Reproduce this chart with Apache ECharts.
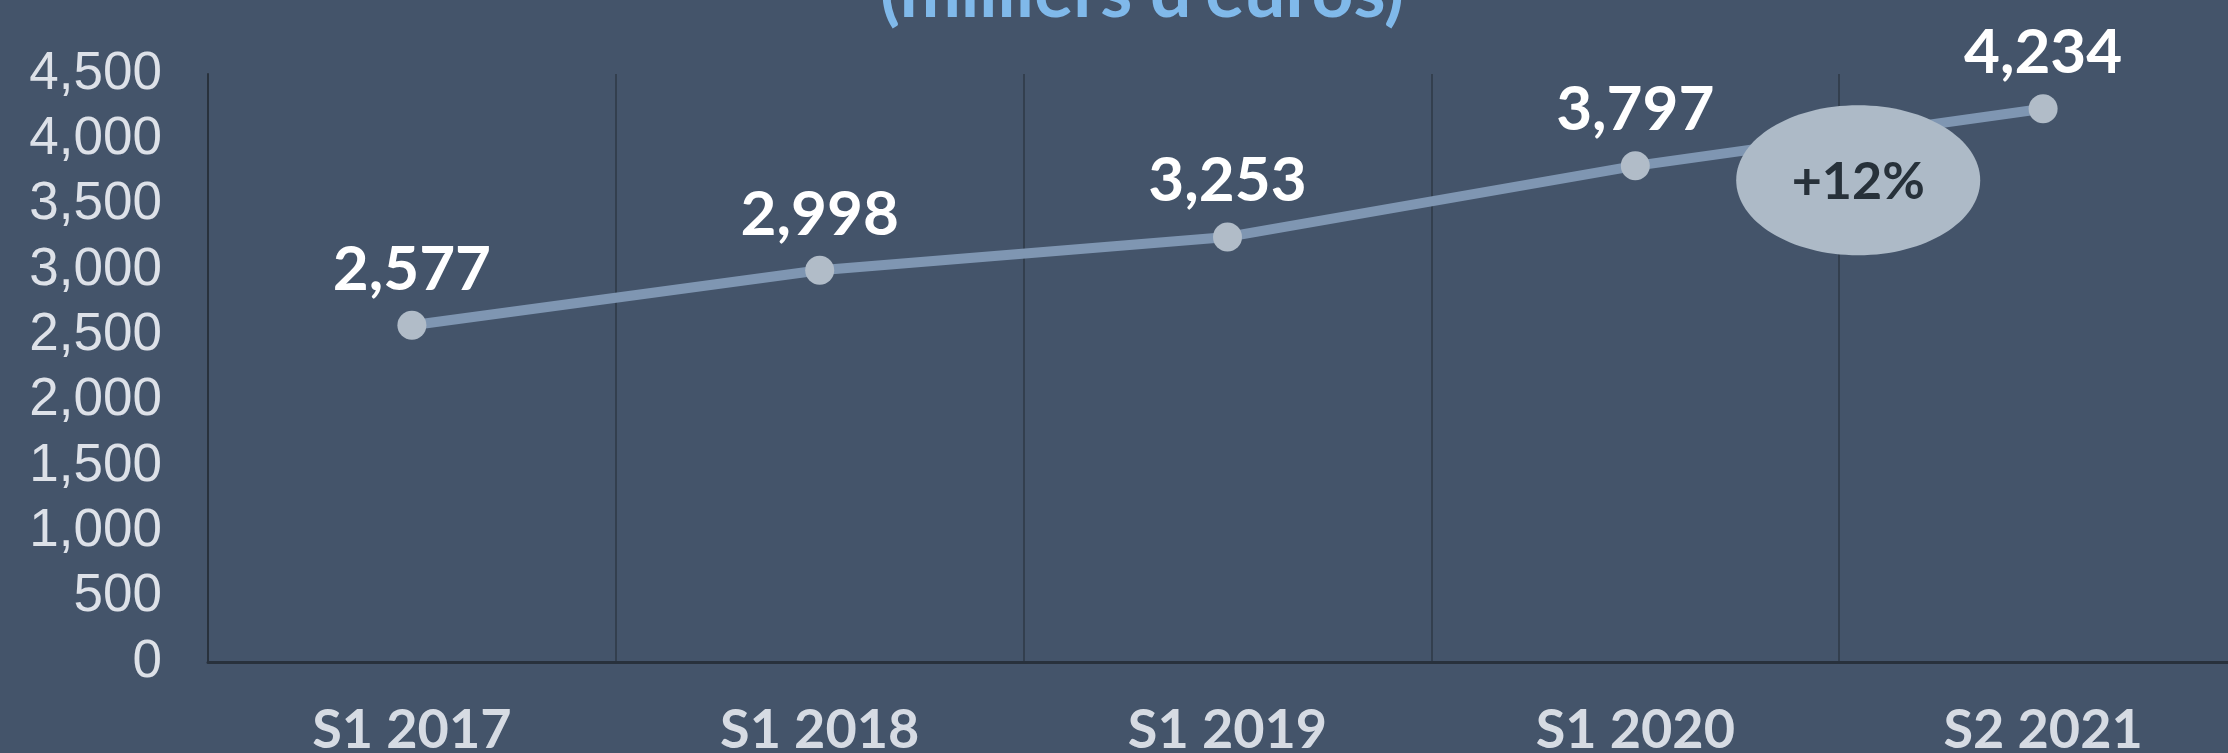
<!DOCTYPE html>
<html>
<head>
<meta charset="utf-8">
<script src="https://cdn.jsdelivr.net/npm/echarts@6/dist/echarts.min.js"></script>
<style>
  html, body { margin: 0; padding: 0; background: #44546a; }
  #chart { width: 2228px; height: 753px; }
</style>
</head>
<body>
<div id="chart"></div>
<script>
// periods on the x axis
const categories = ['S1 2017', 'S1 2018', 'S1 2019', 'S1 2020', 'S2 2021']
// revenue, thousands of euros
const revenue = [2577, 2998, 3253, 3797, 4234]
const growthLabel = '+12%'
const titleText = "(milliers d'euros)"

const chart = echarts.init(document.getElementById('chart'), null, { renderer: 'canvas' })

const fmt = (v) => v.toLocaleString('en-US')

const titleGraphic = {
    type: 'text',
    style: {
        text: titleText,
        fill: '#80b9ea',
        font: 'bold 73px Lato',
        x: 1142,
        y: 30,
        align: 'center',
        verticalAlign: 'bottom',
    },
}

const option = {
    backgroundColor: '#44546a',
    animation: false,
    grid: {
        left: 208,
        width: 2039,
        top: 74,
        bottom: 91,
        outerBoundsMode: 'none',
        containLabel: false,
    },
    xAxis: {
        type: 'category',
        data: categories,
        boundaryGap: true,
        axisLine: { show: true, lineStyle: { color: '#28313c', width: 3 } },
        axisTick: { show: false },
        splitLine: { show: true, interval: 0, lineStyle: { color: '#333f4e', width: 2 } },
        axisLabel: {
            interval: 0,
            margin: 42,
            color: '#d6dbe3',
            fontFamily: 'Lato',
            fontWeight: 'bold',
            fontSize: 54,
        },
    },
    yAxis: {
        type: 'value',
        min: 0,
        max: 4500,
        interval: 500,
        axisLine: { show: true, lineStyle: { color: '#28313c', width: 2 } },
        axisTick: { show: false },
        splitLine: { show: false },
        axisLabel: {
            margin: 46,
            color: '#dde1e8',
            fontFamily: 'Liberation Sans',
            fontSize: 53,
            formatter: fmt,
        },
    },
    series: [{
        type: 'line',
        data: revenue,
        symbol: 'circle',
        symbolSize: 29,
        itemStyle: { color: '#b1bcc8' },
        lineStyle: { color: '#7f96b2', width: 10 },
        label: {
            show: true,
            position: 'top',
            distance: 10,
            color: '#ffffff',
            fontFamily: 'Lato',
            fontWeight: 'bold',
            fontSize: 62,
            formatter: (p) => fmt(p.value),
        },
    }],
    graphic: [titleGraphic],
}

chart.setOption(option)

// growth bubble between the last two points
const p4 = chart.convertToPixel({ seriesIndex: 0 }, [3, revenue[3]])
const p5 = chart.convertToPixel({ seriesIndex: 0 }, [4, revenue[4]])
const cx = (p4[0] + p5[0]) / 2 + 19
const cy = (p4[1] + p5[1]) / 2 + 43

chart.setOption({
    graphic: [titleGraphic, {
        type: 'ellipse',
        shape: { cx: cx, cy: cy, rx: 122, ry: 75 },
        style: { fill: '#adbac7' },
        z: 10,
    }, {
        type: 'text',
        style: {
            text: growthLabel,
            fill: '#27313a',
            font: 'bold 52px Lato',
            x: cx,
            y: cy + 2,
            align: 'center',
            verticalAlign: 'middle',
        },
        z: 11,
    }]
}, { replaceMerge: ['graphic'] })
</script>
</body>
</html>
